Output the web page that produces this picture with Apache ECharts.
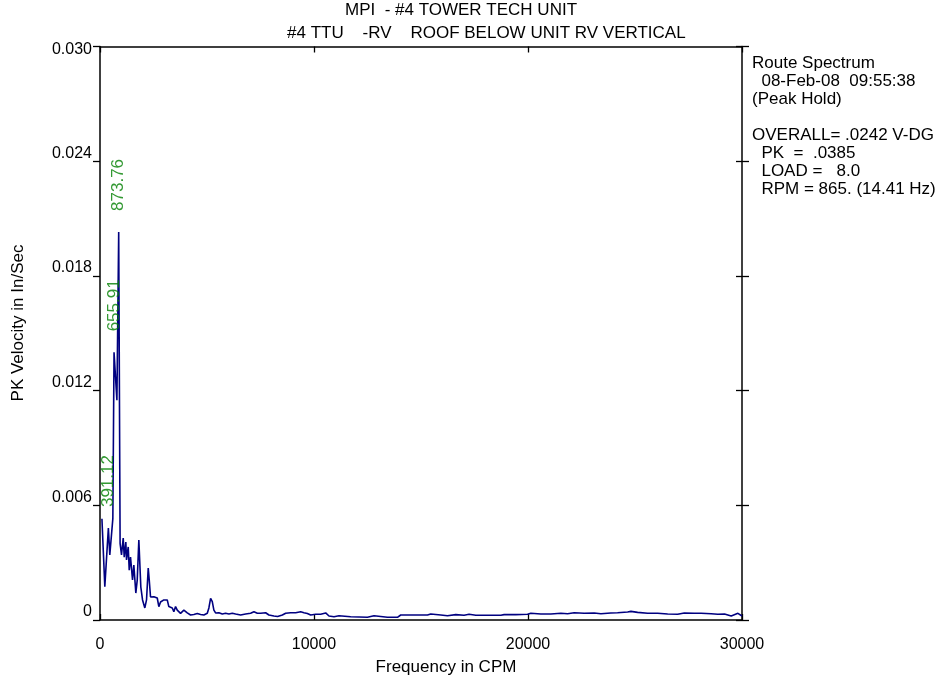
<!DOCTYPE html>
<html>
<head>
<meta charset="utf-8">
<title>Route Spectrum</title>
<script src="https://cdn.jsdelivr.net/npm/echarts@6/dist/echarts.min.js"></script>
<style>
  html, body { margin: 0; padding: 0; background: #fff; }
  #chart { width: 940px; height: 682px; }
</style>
</head>
<body>
<div id="chart"></div>
<script>
// Spectrum samples: frequency (CPM) and peak velocity (in/sec)
const freqCPM = [
  90, 225, 391.12, 458, 600, 655.91, 790, 873.76, 940, 1005,
  1085, 1132, 1207, 1239, 1319, 1366, 1426, 1520, 1581, 1674,
  1740, 1815, 1908, 1988, 2095, 2174, 2254, 2301, 2361, 2441,
  2516, 2595, 2675, 2750, 2829, 2984, 3063, 3142, 3217, 3297,
  3377, 3451, 3531, 3610, 3685, 3764, 3844, 3919, 3998, 4078,
  4232, 4386, 4545, 4700, 4854, 5013, 5088, 5168, 5247, 5322,
  5401, 5556, 5715, 5869, 6024, 6182, 6337, 6571, 6805, 7038,
  7193, 7352, 7506, 7740, 7894, 8128, 8300, 8521, 8675, 8909,
  9143, 9377, 9531, 9690, 9844, 10078, 10312, 10546, 10700, 10934,
  11168, 11715, 12496, 12805, 13431, 13899, 14053, 14675, 15302, 15456,
  15924, 16237, 16625, 17013, 17247, 17561, 17949, 18730, 18884, 19431,
  19978, 20133, 20601, 21068, 21536, 21849, 22158, 22625, 23093, 23407,
  23874, 24187, 24655, 24809, 25123, 25590, 26058, 26526, 26993, 27305,
  27772, 28090, 28557, 28870, 29183, 29496, 29810, 30000
];
const velocity = [
  0.0053, 0.00174, 0.00481, 0.0034, 0.0053, 0.0140, 0.0115, 0.0203, 0.0040, 0.0034,
  0.00429, 0.00329, 0.00408, 0.00314, 0.00382, 0.00261, 0.00329, 0.00209, 0.00287, 0.00141,
  0.00209, 0.00418, 0.00172, 0.00105, 0.00063, 0.00105, 0.00272, 0.00209, 0.0012, 0.00115,
  0.00122, 0.00131, 0.00115, 0.0007, 0.00094, 0.00105, 0.00113, 0.00105, 0.0007, 0.00063,
  0.00063, 0.00043, 0.0007, 0.00052, 0.00047, 0.00035, 0.00043, 0.00052, 0.00042, 0.00037,
  0.00026, 0.00029, 0.00034, 0.00029, 0.00026, 0.00035, 0.00063, 0.00113, 0.00096, 0.00052,
  0.00037, 0.00038, 0.00031, 0.00035, 0.00031, 0.00035, 0.00031, 0.00026, 0.00031, 0.00035,
  0.00043, 0.00035, 0.00035, 0.00038, 0.00026, 0.00021, 0.00018, 0.00026, 0.00035, 0.00038,
  0.00038, 0.00043, 0.00038, 0.00034, 0.00026, 0.0003, 0.0003, 0.00037, 0.00021, 0.00017,
  0.00022, 0.00017, 0.00014, 0.00022, 0.00014, 0.00014, 0.00026, 0.00026, 0.00026, 0.00031,
  0.00026, 0.00022, 0.00028, 0.00025, 0.0003, 0.00025, 0.00025, 0.00025, 0.00028, 0.00028,
  0.0003, 0.00035, 0.00031, 0.00031, 0.00035, 0.00033, 0.00038, 0.00035, 0.00037, 0.00033,
  0.00037, 0.00038, 0.00042, 0.00045, 0.0004, 0.00035, 0.00035, 0.00031, 0.0003, 0.00037,
  0.00035, 0.00035, 0.00033, 0.0003, 0.00031, 0.00021, 0.00035, 0.00021
];

// Labelled peaks (frequency in CPM)
const peakFreqs = [391.12, 655.91, 873.76];

// Axis ticks
const xTicks = [0, 10000, 20000, 30000];
const yTicks = [0, 0.006, 0.012, 0.018, 0.024, 0.030];

const titleLines = [
  'MPI  - #4 TOWER TECH UNIT',
  '#4 TTU    -RV    ROOF BELOW UNIT RV VERTICAL'
];
const infoLines = [
  'Route Spectrum',
  '  08-Feb-08  09:55:38',
  '(Peak Hold)',
  '',
  'OVERALL= .0242 V-DG',
  '  PK  =  .0385',
  '  LOAD =   8.0',
  '  RPM = 865. (14.41 Hz)'
];
const xName = 'Frequency in CPM';
const yName = 'PK Velocity in In/Sec';

const FONT = 'Liberation Sans, Arial, sans-serif';
const FS = 17;
const INK = '#000000';

const spectrum = freqCPM.map((f, i) => [f, velocity[i]]);
const peaks = peakFreqs.map(f => [f, velocity[freqCPM.indexOf(f)]]);

const chart = echarts.init(document.getElementById('chart'), null, { renderer: 'canvas' });

const yMax = yTicks[yTicks.length - 1];
// the top label hangs just under its tick, the others sit on top of theirs
const yFmt = v => {
  if (!yTicks.some(t => Math.abs(t - v) < 1e-9)) return '';
  const s = v === 0 ? '0' : v.toFixed(3);
  return Math.abs(v - yMax) < 1e-9 ? '{top|' + s + '}' : '{lo|' + s + '}';
};

const axisLineStyle = { color: INK, width: 1.5 };
const tickStyle = { color: INK, width: 1.3 };

const option = {
  animation: false,
  backgroundColor: '#ffffff',
  textStyle: { fontFamily: FONT },
  grid: { left: 100, right: 198, top: 46.5, bottom: 62, containLabel: false },
  xAxis: [
    {
      type: 'value', min: 0, max: 30000, interval: 10000,
      position: 'bottom',
      axisLine: { show: true, onZero: false, lineStyle: axisLineStyle },
      axisTick: { show: true, inside: true, length: 6, lineStyle: tickStyle },
      axisLabel: { color: INK, fontSize: 16, fontFamily: FONT, margin: 17,
                   formatter: v => (xTicks.includes(v) ? String(v) : '') },
      splitLine: { show: false }
    },
    {
      type: 'value', min: 0, max: 30000, interval: 10000,
      position: 'top',
      axisLine: { show: true, onZero: false, lineStyle: axisLineStyle },
      axisTick: { show: true, inside: true, length: 6, lineStyle: tickStyle },
      axisLabel: { show: false },
      splitLine: { show: false }
    }
  ],
  yAxis: [
    {
      type: 'value', min: 0, max: yMax, interval: 0.006,
      position: 'left',
      axisLine: { show: true, onZero: false, lineStyle: axisLineStyle },
      axisTick: { show: true, inside: false, length: 7, lineStyle: tickStyle },
      axisLabel: {
        color: INK, fontSize: 16, fontFamily: FONT, margin: 8, formatter: yFmt,
        rich: {
          lo: { fontSize: 16, fontFamily: FONT, color: INK, padding: [0, 0, 16, 0] },
          top: { fontSize: 16, fontFamily: FONT, color: INK, padding: [6, 0, 0, 0] }
        }
      },
      splitLine: { show: false }
    },
    {
      type: 'value', min: 0, max: yMax, interval: 0.006,
      position: 'right',
      axisLine: { show: true, onZero: false, lineStyle: axisLineStyle },
      axisTick: { show: true, inside: false, length: 7, lineStyle: tickStyle },
      axisLabel: { show: false },
      splitLine: { show: false }
    },
    {
      type: 'value', min: 0, max: yMax, interval: 0.006,
      position: 'right',
      axisLine: { show: false, onZero: false },
      axisTick: { show: true, inside: true, length: 6, lineStyle: tickStyle },
      axisLabel: { show: false },
      splitLine: { show: false }
    }
  ],
  series: [
    {
      type: 'line',
      data: spectrum,
      xAxisIndex: 0, yAxisIndex: 0,
      showSymbol: false,
      symbol: 'none',
      lineStyle: { color: '#000080', width: 1.6 },
      z: 3
    },
    {
      // peak frequency tags, written vertically above each peak
      type: 'scatter',
      data: peaks,
      xAxisIndex: 0, yAxisIndex: 0,
      symbolSize: 0,
      silent: true,
      label: {
        show: true,
        position: 'top',
        distance: 21,
        rotate: 90,
        align: 'left',
        verticalAlign: 'middle',
        color: '#008000',
        fontSize: 17,
        fontFamily: FONT,
        formatter: p => p.value[0].toFixed(2)
      },
      z: 4
    }
  ],
  graphic: [
    {
      type: 'text', left: 345, top: 2,
      style: { text: titleLines[0], fill: INK, font: FS + 'px ' + FONT }
    },
    {
      type: 'text', left: 287, top: 25,
      style: { text: titleLines[1], fill: INK, font: FS + 'px ' + FONT }
    },
    {
      type: 'text', left: 752, top: 54,
      style: { text: infoLines.join('\n'), fill: INK, font: FS + 'px ' + FONT, lineHeight: 18 }
    },
    {
      type: 'text', x: 446, y: 667,
      style: { text: xName, fill: INK, font: FS + 'px ' + FONT, align: 'center', verticalAlign: 'middle' }
    },
    {
      type: 'text', x: 18, y: 323, rotation: Math.PI / 2,
      style: { text: yName, fill: INK, font: FS + 'px ' + FONT, align: 'center', verticalAlign: 'middle' }
    }
  ]
};

chart.setOption(option);
</script>
</body>
</html>
